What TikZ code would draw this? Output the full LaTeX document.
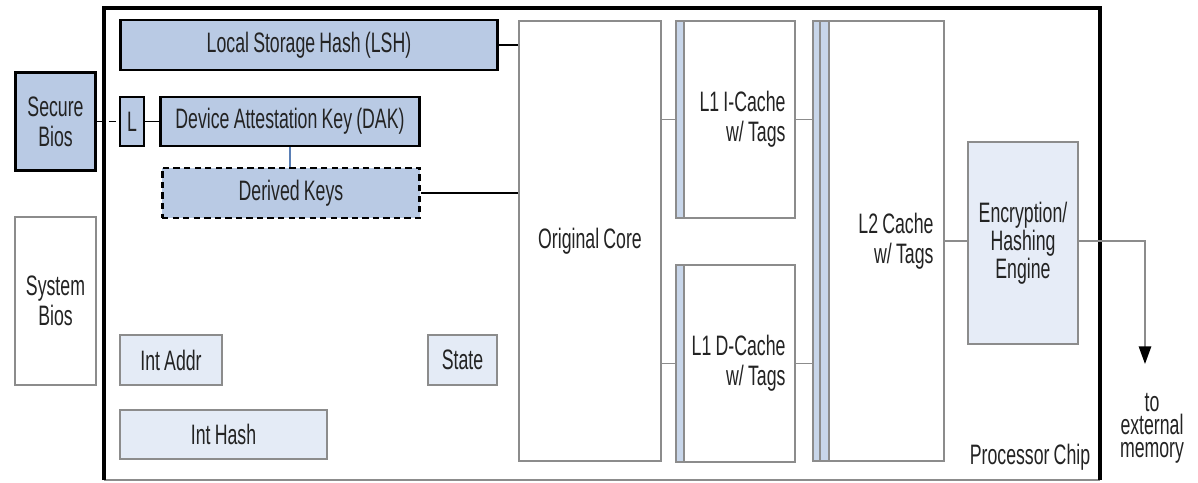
\documentclass[tikz,border=0pt]{standalone}
\usepackage{fontspec}
\setmainfont[FakeStretch=0.63, WordSpace=0.85]{Liberation Sans}
\usetikzlibrary{arrows.meta}
\definecolor{key-blue}{RGB}{185,202,228}
\definecolor{pale-blue}{RGB}{228,235,246}
\definecolor{engine-blue}{RGB}{230,236,247}
\definecolor{stripe-blue}{RGB}{200,214,234}
\definecolor{link-blue}{RGB}{90,127,181}
\definecolor{edge-gray}{RGB}{140,140,140}
\definecolor{text-gray}{RGB}{35,35,35}

\begin{document}
\begin{tikzpicture}[x=0.02cm, y=-0.02cm,
    font=\fontsize{16}{17}\selectfont, text=text-gray,
    box/.style={draw=edge-gray, line width=0.85pt, fill=white,
      inner sep=0pt, align=center},
    keybox/.style={box, draw=black, line width=1.7pt, fill=key-blue},
    palebox/.style={box, fill=pale-blue},
    cachebox/.style={box, text width=2cm, align=flush right,
      minimum width=2.38cm, minimum height=3.94cm,
      path picture={
        \fill[stripe-blue] (path picture bounding box.north west)
          rectangle ([xshift=0.16cm]path picture bounding box.south west);
        \draw[edge-gray, line width=0.85pt]
          ([xshift=0.16cm]path picture bounding box.north west)
          -- ([xshift=0.16cm]path picture bounding box.south west);}},
    link/.style={edge-gray, line width=1pt},
    wire/.style={black, line width=1.1pt}]
  \useasboundingbox (0,0) rectangle (1198,483);

  % Processor chip outline
  \draw[edge-gray, line width=1.2pt] (104,480) -- (1100,480);
  \draw[black, line width=2pt] (104,480) -- (104,8) -- (1100,8) -- (1100,480);

  % Key storage
  \node[keybox, minimum width=7.56cm, minimum height=1cm] (lsh) at (309,45)
    {Local Storage Hash (LSH)};
  \node[keybox, minimum width=1.62cm, minimum height=1.98cm] (sbios)
    at (55.5,121.5) {Secure\\Bios};
  \node[keybox, minimum width=0.48cm, minimum height=0.98cm] (lock)
    at (132,121.5) {L};
  \node[keybox, minimum width=5.2cm, minimum height=0.98cm] (dak)
    at (290,121.5) {Device Attestation Key (DAK)};
  \node[keybox, dash pattern=on 3.6pt off 2.4pt, minimum width=5.16cm,
        minimum height=1cm] (derived) at (291,193) {Derived Keys};

  % Other blocks
  \node[box, minimum width=1.62cm, minimum height=3.36cm] (sysbios)
    at (55.5,301) {System\\Bios};
  \node[palebox, minimum width=2.04cm, minimum height=1cm] (iaddr)
    at (171,360) {Int Addr};
  \node[palebox, minimum width=4.14cm, minimum height=0.98cm] (ihash)
    at (223.5,434.5) {Int Hash};
  \node[palebox, minimum width=1.38cm, minimum height=1cm] (state)
    at (462.5,360) {State};
  \node[box, minimum width=2.84cm, minimum height=8.8cm] (core)
    at (590,241) {Original Core};

  % Caches
  \node[cachebox] (l1i) at (735.5,119.5) {L1 I-Cache\\w/ Tags};
  \node[cachebox] (l1d) at (735.5,363.5) {L1 D-Cache\\w/ Tags};
  \node[box, text width=2.2cm, align=flush right, minimum width=2.62cm,
        minimum height=8.8cm,
        path picture={
          \fill[stripe-blue] (path picture bounding box.north west)
            rectangle ([xshift=0.32cm]path picture bounding box.south west);
          \foreach \dx in {0.14cm, 0.32cm}
            \draw[edge-gray, line width=0.85pt]
              ([xshift=\dx]path picture bounding box.north west)
              -- ([xshift=\dx]path picture bounding box.south west);}]
    (l2) at (878.5,241) {L2 Cache\\w/ Tags};
  \node[box, fill=engine-blue, minimum width=2.2cm, minimum height=4.04cm,
        font=\fontsize{16}{13.5}\selectfont] (engine) at (1023,243)
    {Encryption/\\Hashing\\Engine};

  % Connections
  \draw[wire] (lsh.east) -- (lsh.east -| core.west);
  \draw[wire] (derived.east) -- (derived.east -| core.west);
  \draw[wire, dash pattern=on 4pt off 2.5pt] (sbios.east) -- (lock.west);
  \draw[wire] (lock.east) -- (dak.west);
  \draw[link-blue, line width=0.6pt] (dak.south) -- (dak.south |- derived.north);
  \draw[link] (l1i.west -| core.east) -- (l1i.west);
  \draw[link] (l1d.west -| core.east) -- (l1d.west);
  \draw[link] (l1i.east) -- (l1i.east -| l2.west);
  \draw[link] (l1d.east) -- (l1d.east -| l2.west);
  \draw[link] (l2.west -| l2.east) -- (l2.west -| engine.west);
  \coordinate (ext) at (1145,364);
  \draw[link, -{Triangle[color=black, length=10pt, width=7pt]}]
    (l2.west -| engine.east) -| (ext);

  % Labels
  \node[align=center, font=\fontsize{16}{13}\selectfont] (extmem)
    at (1152,428) {to\\external\\memory};
  \node (chiplabel) at (1030,457) {Processor Chip};
\end{tikzpicture}
\end{document}
